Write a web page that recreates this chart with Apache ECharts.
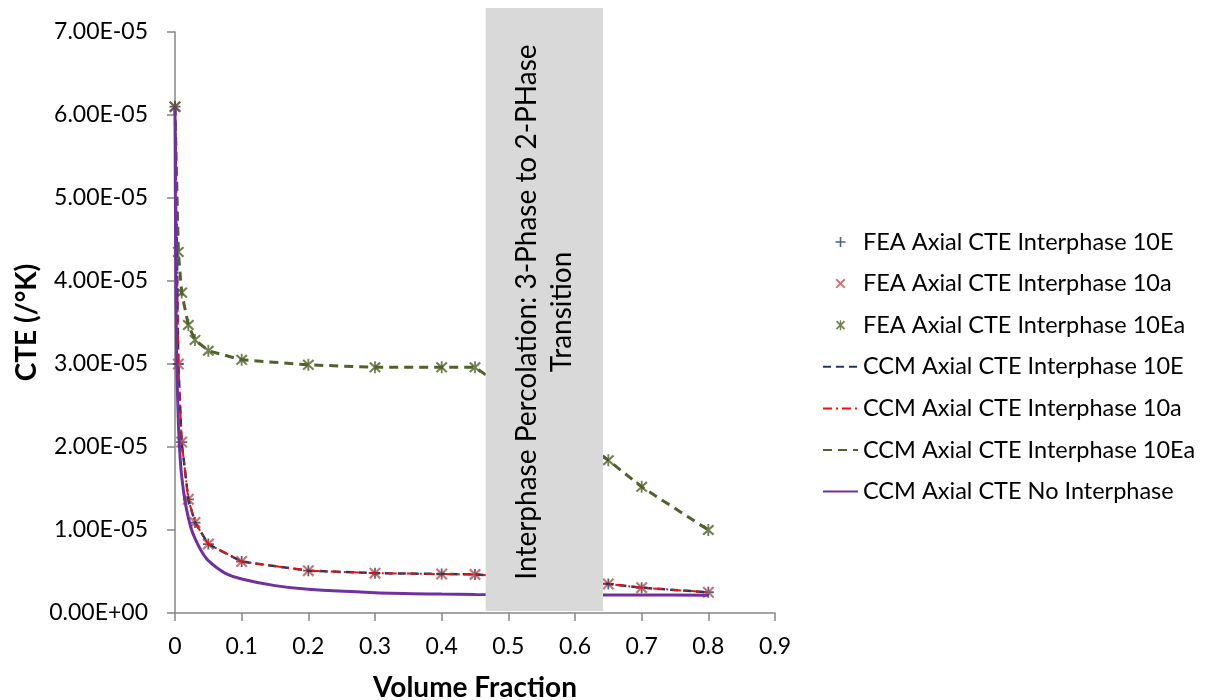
<!DOCTYPE html>
<html>
<head>
<meta charset="utf-8">
<script src="https://cdn.jsdelivr.net/npm/echarts@6/dist/echarts.min.js"></script>
<style>
  html, body { margin: 0; padding: 0; background: #fff; }
  #chart { width: 1216px; height: 700px; }
</style>
</head>
<body>
<div id="chart"></div>
<script>
// Volume fractions of the FEA sample points (and the CCM curves through them)
const feaFractions = [0, 0.005, 0.01, 0.02, 0.03, 0.05, 0.1, 0.2, 0.3, 0.4, 0.45, 0.65, 0.7, 0.8];
// Axial CTE, 1/K
const fea10E  = [6.1e-5, 3.0e-5, 2.06e-5, 1.37e-5, 1.09e-5, 8.3e-6, 6.2e-6, 5.1e-6, 4.8e-6, 4.7e-6, 4.65e-6, 3.5e-6, 3.05e-6, 2.5e-6];
const fea10a  = [6.1e-5, 3.0e-5, 2.06e-5, 1.37e-5, 1.09e-5, 8.3e-6, 6.2e-6, 5.1e-6, 4.8e-6, 4.7e-6, 4.65e-6, 3.5e-6, 3.05e-6, 2.5e-6];
const fea10Ea = [6.1e-5, 4.35e-5, 3.86e-5, 3.47e-5, 3.29e-5, 3.16e-5, 3.05e-5, 2.99e-5, 2.96e-5, 2.96e-5, 2.96e-5, 1.84e-5, 1.52e-5, 1.0e-5];
const ccm10E  = [6.1e-5, 3.0e-5, 2.06e-5, 1.37e-5, 1.09e-5, 8.3e-6, 6.2e-6, 5.1e-6, 4.8e-6, 4.7e-6, 4.65e-6, 3.5e-6, 3.05e-6, 2.5e-6];
const ccm10a  = [6.1e-5, 3.0e-5, 2.06e-5, 1.37e-5, 1.09e-5, 8.3e-6, 6.2e-6, 5.1e-6, 4.8e-6, 4.7e-6, 4.65e-6, 3.5e-6, 3.05e-6, 2.5e-6];
const ccm10Ea = [6.1e-5, 4.35e-5, 3.86e-5, 3.47e-5, 3.29e-5, 3.16e-5, 3.05e-5, 2.99e-5, 2.96e-5, 2.96e-5, 2.96e-5, 1.84e-5, 1.52e-5, 1.0e-5];
// Two-phase composite (no interphase) model curve
const noInterFractions = [0, 0.001, 0.0025, 0.005, 0.0075, 0.01, 0.015, 0.02, 0.025, 0.03, 0.04, 0.05, 0.075, 0.1, 0.15, 0.2, 0.3, 0.4, 0.45, 0.65, 0.7, 0.8];
const ccmNoInter = [6.1e-5, 4.3e-5, 3.1e-5, 2.3e-5, 1.9e-5, 1.65e-5, 1.35e-5, 1.15e-5, 1.0e-5, 9.0e-6, 7.4e-6, 6.3e-6, 4.8e-6, 4.1e-6, 3.3e-6, 2.85e-6, 2.45e-6, 2.28e-6, 2.24e-6, 2.18e-6, 2.17e-6, 2.15e-6];

const seriesNames = [
  'FEA Axial CTE Interphase 10E',
  'FEA Axial CTE Interphase 10a',
  'FEA Axial CTE Interphase 10Ea',
  'CCM Axial CTE Interphase 10E',
  'CCM Axial CTE Interphase 10a',
  'CCM Axial CTE Interphase 10Ea',
  'CCM Axial CTE No Interphase'
];
const xTicks = { min: 0, max: 0.9, interval: 0.1 };
const yTicks = { min: 0, max: 7e-5, interval: 1e-5 };
// Percolation transition band along the volume-fraction axis
const transitionBand = [0.466, 0.642];
const bandText = ['Interphase Percolation: 3-Phase to 2-PHase', 'Transition'];

const pairs = (xs, ys) => xs.map((x, i) => [x, ys[i]]);

const PLUS = 'path://M-0.8,-5L0.8,-5L0.8,-0.8L5,-0.8L5,0.8L0.8,0.8L0.8,5L-0.8,5L-0.8,0.8L-5,0.8L-5,-0.8L-0.8,-0.8Z';
const CROSS = 'path://M-4.6,-3.4L-3.4,-4.6L4.6,3.4L3.4,4.6ZM3.4,-4.6L4.6,-3.4L-3.4,4.6L-4.6,3.4Z';
const STAR = 'path://M-4.6,-3.4L-3.4,-4.6L4.6,3.4L3.4,4.6ZM3.4,-4.6L4.6,-3.4L-3.4,4.6L-4.6,3.4ZM-0.7,-5L0.7,-5L0.7,5L-0.7,5Z';

const NAVY = '#1F3B64', RED = '#C0504D', BRIGHT_RED = '#E8120C', OLIVE = '#4F6228', PURPLE = '#7030A0';
const FONT = 'Lato';

function fmtExp(v) {
  if (v === 0) return '0.00E+00';
  const s = v.toExponential(2).toUpperCase();
  const m = s.match(/^(.*)E([+-])(\d+)$/);
  return m[1] + 'E' + m[2] + (m[3].length < 2 ? '0' + m[3] : m[3]);
}

const chart = echarts.init(document.getElementById('chart'), null, { renderer: 'canvas' });

// Legend entries: line entries show only their stroke, no point symbol
const legendData = seriesNames.map((name, i) => (
  i < 3 ? { name } : { name, itemStyle: { opacity: 0 } }
));

const option = {
  animation: false,
  backgroundColor: '#ffffff',
  textStyle: { fontFamily: FONT },
  grid: { left: 175, top: 32, width: 600, height: 581, containLabel: false, outerBoundsMode: 'none' },
  xAxis: {
    type: 'value',
    min: xTicks.min, max: xTicks.max, interval: xTicks.interval,
    name: 'Volume Fraction',
    nameLocation: 'middle',
    nameGap: 61,
    nameTextStyle: { fontFamily: FONT, fontSize: 28, fontWeight: 'bold', color: '#000' },
    axisLine: { show: true, onZero: false, lineStyle: { color: '#868686', width: 1.5 } },
    axisTick: { show: true, length: 8, lineStyle: { color: '#868686', width: 1.5 } },
    splitLine: { show: false },
    axisLabel: {
      margin: 22, fontSize: 23, color: '#000', fontFamily: FONT,
      formatter: v => String(+v.toFixed(1))
    }
  },
  yAxis: {
    type: 'value',
    min: yTicks.min, max: yTicks.max, interval: yTicks.interval,
    name: 'CTE (/°K)',
    nameLocation: 'middle',
    nameGap: 134,
    nameTextStyle: { fontFamily: FONT, fontSize: 28, fontWeight: 'bold', color: '#000' },
    axisLine: { show: true, lineStyle: { color: '#868686', width: 1.5 } },
    axisTick: { show: true, length: 8, lineStyle: { color: '#868686', width: 1.5 } },
    splitLine: { show: false },
    axisLabel: { margin: 27, fontSize: 23, color: '#000', fontFamily: FONT, formatter: fmtExp }
  },
  legend: {
    orient: 'vertical',
    left: 817,
    top: 225,
    itemWidth: 35,
    itemHeight: 10,
    itemGap: 17.6,
    selectedMode: false,
    textStyle: { fontFamily: FONT, fontSize: 23.5, color: '#000', lineHeight: 24 },
    data: legendData
  },
  series: [
    {
      name: seriesNames[0], type: 'scatter', data: pairs(feaFractions, fea10E),
      symbol: PLUS, symbolSize: 11, itemStyle: { color: NAVY }, z: 2
    },
    {
      name: seriesNames[1], type: 'scatter', data: pairs(feaFractions, fea10a),
      symbol: CROSS, symbolSize: 12, itemStyle: { color: RED }, z: 2
    },
    {
      name: seriesNames[2], type: 'scatter', data: pairs(feaFractions, fea10Ea),
      symbol: STAR, symbolSize: 12, itemStyle: { color: OLIVE }, z: 2
    },
    {
      name: seriesNames[3], type: 'line', data: pairs(feaFractions, ccm10E),
      symbol: 'none', itemStyle: { color: NAVY },
      lineStyle: { color: NAVY, width: 2.5, type: [8, 5] }, z: 3
    },
    {
      name: seriesNames[4], type: 'line', data: pairs(feaFractions, ccm10a),
      symbol: 'none', itemStyle: { color: BRIGHT_RED },
      lineStyle: { color: BRIGHT_RED, width: 2, type: [9, 4, 2, 4] }, z: 3
    },
    {
      name: seriesNames[5], type: 'line', data: pairs(feaFractions, ccm10Ea),
      symbol: 'none', itemStyle: { color: OLIVE },
      lineStyle: { color: OLIVE, width: 3, type: [9, 6] }, z: 3
    },
    {
      name: seriesNames[6], type: 'line', data: pairs(noInterFractions, ccmNoInter),
      symbol: 'none', smooth: 0.3, itemStyle: { color: PURPLE },
      lineStyle: { color: PURPLE, width: 3 }, z: 4
    }
  ]
};

chart.setOption(option);

// Opaque annotation band laid over the plot between the two percolation limits
const pL = chart.convertToPixel({ gridIndex: 0 }, [transitionBand[0], 0]);
const pR = chart.convertToPixel({ gridIndex: 0 }, [transitionBand[1], 0]);
const bandTop = 8;
const bandBottom = pL[1] - 2;
const cx = (pL[0] + pR[0]) / 2;
const cy = 312;

chart.setOption({
  graphic: [
    {
      type: 'rect', z: 100,
      shape: { x: pL[0], y: bandTop, width: pR[0] - pL[0], height: bandBottom - bandTop },
      style: { fill: '#D9D9D9' }
    },
    {
      type: 'group', z: 101, x: cx, y: cy, rotation: Math.PI / 2,
      children: bandText.map((t, i) => ({
        type: 'text', z: 101,
        x: 0, y: (i - 0.5) * 35,
        style: {
          text: t, fill: '#000', font: '28px "' + FONT + '"',
          align: 'center', verticalAlign: 'middle'
        }
      }))
    }
  ]
});
</script>
</body>
</html>
